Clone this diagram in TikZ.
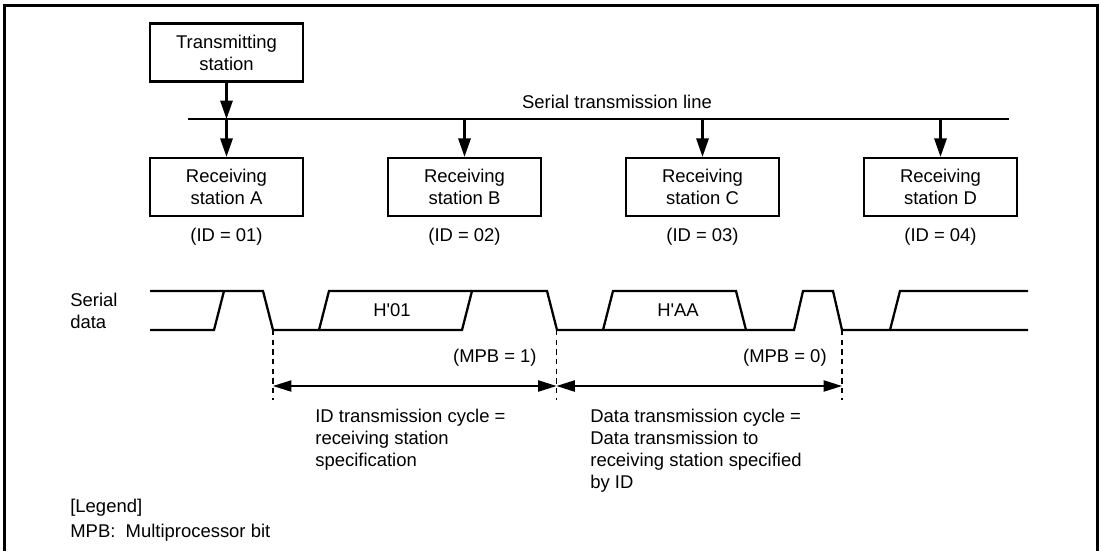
\documentclass[tikz,border=0pt]{standalone}
\usepackage{fontspec}
\setmainfont{Liberation Sans}
\usetikzlibrary{arrows.meta}

\begin{document}
\begin{tikzpicture}[x=0.02cm, y=-0.02cm,
  every node/.style={font=\fontsize{10.5}{12.5}\selectfont, inner sep=0pt},
  station/.style={draw, line width=1.3pt, minimum width=3.06cm, minimum height=1.16cm, align=center},
  feed/.style={line width=1.2pt, -{Triangle[length=10.5pt, width=7pt]}},
  wave/.style={line width=1.3pt},
  marker/.style={line width=0.7pt, dash pattern=on 3pt off 2.5pt},
  span/.style={line width=0.9pt, {Triangle[length=10.5pt, width=6.4pt]}-{Triangle[length=10.5pt, width=6.4pt]}},
  note/.style={align=left, anchor=north west}]
  \useasboundingbox (0,0) rectangle (1101,551);

  % Frame (open at the bottom)
  \draw[line width=1.8pt] (4.5,551) -- (4.5,5.3) -- (1097.5,5.3) -- (1097.5,551);

  % Stations
  \node[station] (tx) at (226.5,52.5) {Transmitting\\station};
  \foreach \s/\id [count=\i from 0] in {A/01,B/02,C/03,D/04} {
    \node[station] (rx\s) at ({226.5+238*\i},187) {Receiving\\station \s};
    \node (id\s) at ({226.5+238*\i},237) {(ID = \id)};
  }

  % Serial transmission line
  \coordinate (busL) at (188,119);
  \coordinate (busR) at (1009,119);
  \draw[line width=0.8pt] (busL) -- (busR);
  \node (busLabel) at (617,102) {Serial transmission line};
  \draw[feed] (tx.south) -- (tx.south |- busL);
  \foreach \s in {A,B,C,D}
    \draw[feed] (rx\s.north |- busL) -- (rx\s.north);

  % Serial data
  \node[align=left, anchor=west] (serial) at (70,310.5) {Serial\\data};
  \draw[wave] (150,330) -- (214,330) -- (224,291);
  \draw[wave] (150,291) -- (263,291) -- (273,330) -- (462,330) -- (472,291) -- (547,291) -- (557,330)
    -- (794,330) -- (803,291) -- (833,291) -- (842,330) -- (1028,330);
  \draw[wave] (319,330) -- (329,291) -- (472,291);
  \draw[wave] (603,330) -- (613,291) -- (736,291) -- (746,330);
  \draw[wave] (890,330) -- (900,291) -- (1028,291);
  \node (d01) at (392,310) {H\textquotesingle 01};
  \node (dAA) at (678,310) {H\textquotesingle AA};

  % Cycle markers
  \coordinate (spanY) at (0,386);
  \foreach \m/\x in {m0/273, m1/556.5, m2/842} {
    \coordinate (\m) at (\x,330);
    \draw[marker] (\m) -- (\x,400);
  }
  \draw[span] (m0 |- spanY) -- (m1 |- spanY);
  \draw[span] (m1 |- spanY) -- (m2 |- spanY);
  \node[anchor=east] (mpb1) at (537,358) {(MPB = 1)};
  \node[anchor=east] (mpb0) at (827,358) {(MPB = 0)};

  \node[note] (idCycle) at (315,409) {ID transmission cycle =\\receiving station\\specification};
  \node[note] (dataCycle) at (590,409) {Data transmission cycle =\\Data transmission to\\receiving station specified\\by ID};

  % Legend
  \node[note] (legend) at (70,499) {[Legend]\\[1.5pt]MPB:\ \ Multiprocessor bit};
\end{tikzpicture}
\end{document}
